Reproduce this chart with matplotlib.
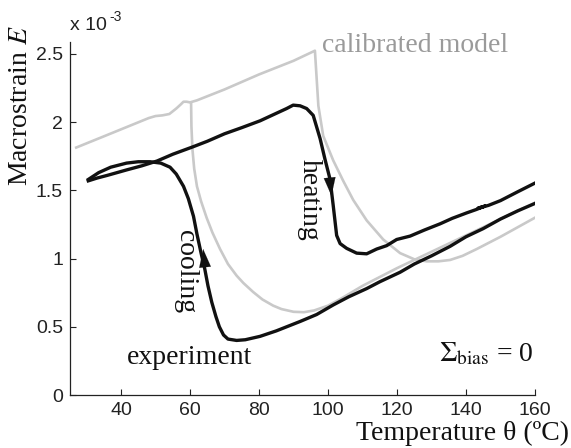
import matplotlib
matplotlib.use("Agg")
import matplotlib.pyplot as plt

plt.rcParams['mathtext.fontset'] = 'stix'

# ---- data (macrostrain in units of 1e-3, temperature in deg C) ----
model_heat_T = [27, 35, 45, 48, 50, 52, 54, 56, 57.3, 58.1, 59, 60, 62, 70, 80, 90, 96.2,
                97.2, 98.6, 101.5, 104.4, 107.3, 111.2, 116, 120.9, 125, 128.6, 132,
                135.4, 139, 143.1, 150, 155, 160]
model_heat_E = [1.814, 1.896, 1.999, 2.03, 2.045, 2.05, 2.06, 2.10, 2.13, 2.15, 2.15, 2.145,
                2.16, 2.24, 2.35, 2.45, 2.524,
                2.12, 1.90, 1.72, 1.57, 1.43, 1.28, 1.14, 1.04, 0.995, 0.98, 0.98,
                0.99, 1.02, 1.07, 1.16, 1.23, 1.30]

model_cool_T = [160, 150, 140, 130, 120, 110, 104, 100, 96, 93, 90, 86.5, 84.1, 81, 78.3,
                75.5, 73.5, 71, 68.7, 66.5, 64.8, 63.2, 62, 61.2, 60.7, 60.4, 60.3]
model_cool_E = [1.41, 1.29, 1.17, 1.05, 0.93, 0.80, 0.71, 0.655, 0.62, 0.607, 0.61, 0.63,
                0.655, 0.70, 0.755, 0.82, 0.875, 0.96, 1.07, 1.19, 1.30, 1.42, 1.53,
                1.66, 1.80, 1.97, 2.145]

exp_heat_T = [30.5, 33, 36, 38.8, 41.6, 46, 50.4, 55, 60.9, 65, 70, 75, 80.3, 85, 88, 89.9,
              91.9, 93.8, 95.7, 97.7, 99.1, 100.6, 101.5, 102.5, 103.5, 105.4, 108.3,
              111.2, 114.1, 117, 119.9, 123.8, 128, 132.5, 136, 140.2, 143, 145.5, 143.5,
              146.5, 150, 155, 160.5]
exp_heat_E = [1.57, 1.59, 1.61, 1.63, 1.65, 1.68, 1.715, 1.765, 1.82, 1.86, 1.915, 1.96,
              2.01, 2.065, 2.10, 2.125,
              2.12, 2.10, 2.05, 1.88, 1.73, 1.58, 1.39, 1.17, 1.11, 1.075, 1.04,
              1.035, 1.07, 1.095, 1.14, 1.165, 1.21, 1.255, 1.295, 1.335, 1.36, 1.385, 1.37,
              1.39, 1.425, 1.49, 1.56]

exp_cool_T = [160.5, 155, 150, 145, 140, 135.4, 130, 125, 120.9, 115, 111.2, 106, 101.5,
              96.7, 92, 89, 85, 80.3, 76, 73.5, 71, 69.7, 68.5, 67.5, 66.3, 65.2, 64.3,
              63.2, 62, 61, 59.5, 58.1, 56, 54.2, 51.5, 48.4, 45, 41.6, 37, 33.5, 30.5]
exp_cool_E = [1.41, 1.35, 1.29, 1.22, 1.16, 1.09, 1.02, 0.96, 0.90, 0.83, 0.78, 0.72, 0.66,
              0.59, 0.54, 0.51, 0.47, 0.43, 0.405, 0.40, 0.41, 0.44, 0.50, 0.575, 0.68,
              0.80, 0.92, 1.04, 1.18, 1.31, 1.44, 1.53, 1.62, 1.67, 1.70, 1.71, 1.71,
              1.70, 1.67, 1.63, 1.58]

x_ticks = [40, 60, 80, 100, 120, 140, 160]
y_ticks = [0, 0.5, 1, 1.5, 2, 2.5]
y_tick_labels = ['0', '0.5', '1', '1.5', '2', '2.5']

# ---- figure ----
W, H = 571, 448
fig = plt.figure(figsize=(W / 100, H / 100), dpi=100)
ax = fig.add_axes([70 / W, 1 - 395 / H, (535 - 70) / W, (395 - 41.7) / H])

gray = '#c9c9c9'
ax.plot(model_heat_T, model_heat_E, color=gray, lw=1.9, solid_joinstyle='round', zorder=2)
ax.plot(model_cool_T, model_cool_E, color=gray, lw=1.9, solid_joinstyle='round', zorder=2)
ax.plot(exp_heat_T, exp_heat_E, color='#111111', lw=2.4, solid_joinstyle='round', zorder=3)
ax.plot(exp_cool_T, exp_cool_E, color='#111111', lw=2.4, solid_joinstyle='round', zorder=3)

ax.set_xlim(25.2, 160)
ax.set_ylim(0, 2.59)
ax.set_xticks(x_ticks)
ax.set_yticks(y_ticks)
ax.set_yticklabels(y_tick_labels)
for s in ['top', 'right']:
    ax.spines[s].set_visible(False)
for s in ['left', 'bottom']:
    ax.spines[s].set_linewidth(0.9)
    ax.spines[s].set_color('#222222')
ax.tick_params(direction='in', length=4, width=0.8, colors='#222222',
               labelsize=14, pad=5)
for lab in ax.get_xticklabels() + ax.get_yticklabels():
    lab.set_family('Liberation Sans')

# arrows on the loops
arrow_kw = dict(arrowstyle='-|>,head_length=1.3,head_width=0.42', color='#111111',
                lw=0.1, mutation_scale=10, shrinkA=0, shrinkB=0)
ax.annotate('', xy=(101.0, 1.46), xytext=(100.2, 1.66), arrowprops=arrow_kw, zorder=4)
ax.annotate('', xy=(63.8, 1.07), xytext=(64.5, 0.90), arrowprops=arrow_kw, zorder=4)

serif = 'Liberation Serif'


def fig_text(px, py, s, **kw):
    fig.text(px / W, 1 - py / H, s, **kw)


fig_text(322, 45, 'calibrated model', family=serif, fontsize=20, color='#9a9a9a',
         ha='left', va='center')
fig_text(309, 200, 'heating', family=serif, fontsize=20, color='#111111',
         rotation=-90, ha='center', va='center')
fig_text(185, 272, 'cooling', family=serif, fontsize=20, color='#111111',
         rotation=-90, ha='center', va='center')
fig_text(189, 357, 'experiment', family=serif, fontsize=20, color='#111111',
         ha='center', va='center')
fig_text(486, 354, r'$\Sigma_{\mathrm{bias}}$ = 0', family=serif, fontsize=20,
         color='#111111', ha='center', va='center')

fig_text(21, 106, r'Macrostrain $E$', family=serif, fontsize=20, color='#111111',
         rotation=90, ha='center', va='center')
fig_text(569, 433, 'Temperature θ (ºC)', family=serif, fontsize=20, color='#111111',
         ha='right', va='center')

fig_text(70, 26, 'x 10', family='Liberation Sans', fontsize=14, color='#222222',
         ha='left', va='center')
fig_text(109, 17, '-3', family='Liberation Sans', fontsize=10, color='#222222',
         ha='left', va='center')

fig.savefig('out.png', dpi=100)
